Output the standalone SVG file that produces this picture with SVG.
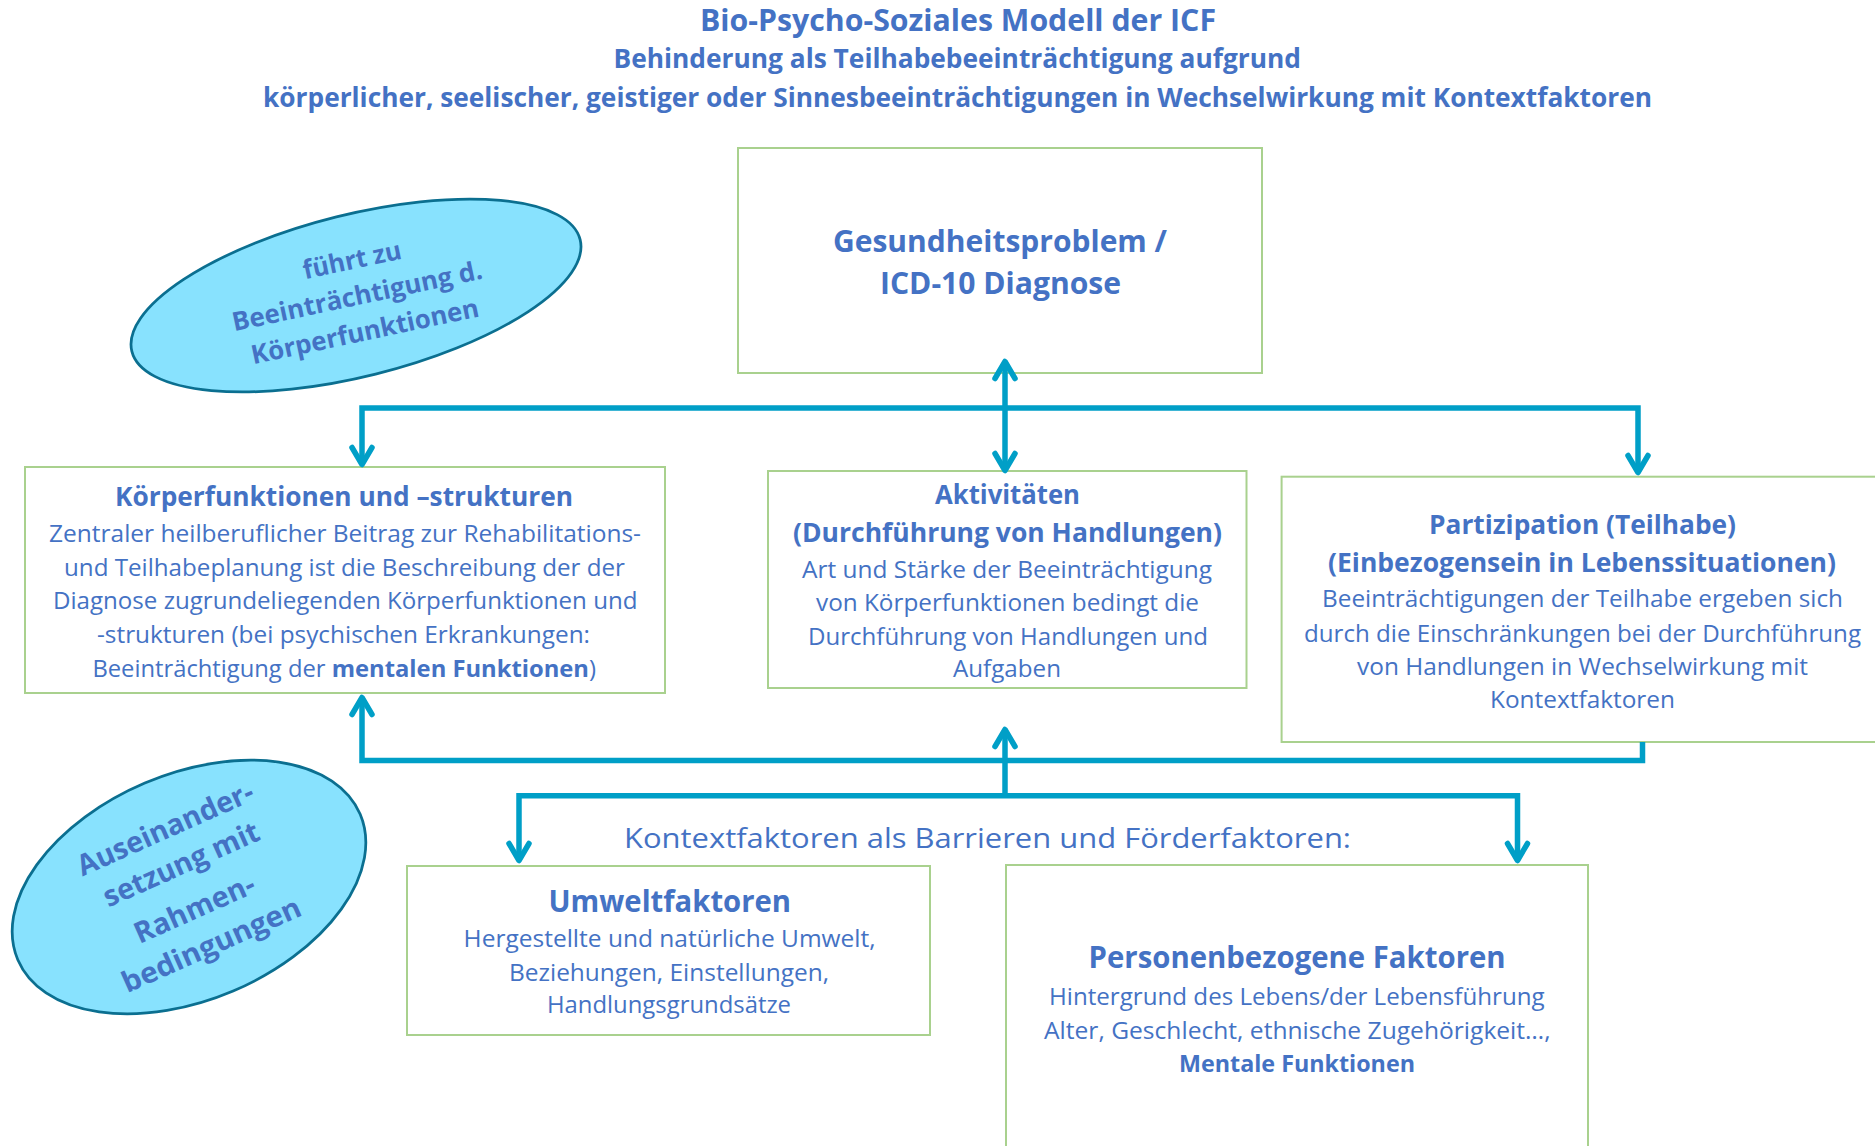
<svg xmlns="http://www.w3.org/2000/svg" width="1875" height="1146" viewBox="0 0 1875 1146">
<style>
text { font-family: "Open Sans", "Noto Sans", "DejaVu Sans", sans-serif; fill: #4472C4; }
.b { font-weight: 700; }
.r { font-size: 24px; }
.box { fill: #FFFFFF; stroke: #A9D18E; stroke-width: 2; }
.ell { fill: #88E2FE; stroke: #0B6F90; stroke-width: 2.75; }
.conn { fill: none; stroke: #009FC7; stroke-width: 5.5; stroke-linejoin: miter; }
</style>
<defs>
<marker id="arr" markerUnits="userSpaceOnUse" orient="auto-start-reverse" refX="0" refY="0" markerWidth="1" markerHeight="1" overflow="visible">
<path d="M-17,-10 L0,0 L-17,10" fill="none" stroke="#009FC7" stroke-width="5.5" stroke-linecap="round" stroke-linejoin="round"/>
</marker>
</defs>
<rect width="1875" height="1146" fill="#FFFFFF"/>

<g id="title">
<text class="b" x="700" y="31" font-size="30" textLength="516" lengthAdjust="spacingAndGlyphs">Bio-Psycho-Soziales Modell der ICF</text>
<text class="b" x="613.5" y="68" font-size="26" textLength="687.5" lengthAdjust="spacingAndGlyphs">Behinderung als Teilhabebeeinträchtigung aufgrund</text>
<text class="b" x="263" y="107" font-size="26" textLength="1389" lengthAdjust="spacingAndGlyphs">körperlicher, seelischer, geistiger oder Sinnesbeeinträchtigungen in Wechselwirkung mit Kontextfaktoren</text>
</g>

<g id="ellipse-fuehrt">
<g transform="translate(356,295.5)">
<ellipse class="ell" rx="231" ry="81" transform="rotate(-14)"/>
<g transform="rotate(-12)">
<text class="b" x="3.5" y="-26.5" font-size="26" text-anchor="middle" textLength="100" lengthAdjust="spacingAndGlyphs">führt zu</text>
<text class="b" x="1" y="9.7" font-size="26" text-anchor="middle" textLength="255" lengthAdjust="spacingAndGlyphs">Beeinträchtigung d.</text>
<text class="b" x="1.2" y="46" font-size="26" text-anchor="middle" textLength="232" lengthAdjust="spacingAndGlyphs">Körperfunktionen</text>
</g>
</g>
</g>

<g id="ellipse-auseinander">
<g transform="translate(189,887)">
<ellipse class="ell" rx="186" ry="113" transform="rotate(-23)"/>
<g transform="rotate(-24)">
<text class="b" x="2" y="-53" font-size="29" text-anchor="middle" textLength="190" lengthAdjust="spacingAndGlyphs">Auseinander-</text>
<text class="b" x="2" y="-14" font-size="29" text-anchor="middle" textLength="168" lengthAdjust="spacingAndGlyphs">setzung mit</text>
<text class="b" x="-3.9" y="32" font-size="29" text-anchor="middle" textLength="129" lengthAdjust="spacingAndGlyphs">Rahmen-</text>
<text class="b" x="-3.1" y="72" font-size="29" text-anchor="middle" textLength="193" lengthAdjust="spacingAndGlyphs">bedingungen</text>
</g>
</g>
</g>

<g id="node-gesundheit">
<rect class="box" x="738" y="148" width="524" height="225"/>
<text class="b" x="833" y="252" font-size="30" textLength="334" lengthAdjust="spacingAndGlyphs">Gesundheitsproblem /</text>
<text class="b" x="880" y="294" font-size="30" textLength="241" lengthAdjust="spacingAndGlyphs">ICD-10 Diagnose</text>
</g>

<g id="node-koerper">
<rect class="box" x="25" y="467" width="640" height="226"/>
<text class="b" x="115" y="506" font-size="26" textLength="458" lengthAdjust="spacingAndGlyphs">Körperfunktionen und –strukturen</text>
<text class="r" x="49" y="542" textLength="592" lengthAdjust="spacingAndGlyphs">Zentraler heilberuflicher Beitrag zur Rehabilitations-</text>
<text class="r" x="64" y="575.5" textLength="561" lengthAdjust="spacingAndGlyphs">und Teilhabeplanung ist die Beschreibung der der</text>
<text class="r" x="53" y="609" textLength="584.5" lengthAdjust="spacingAndGlyphs">Diagnose zugrundeliegenden Körperfunktionen und</text>
<text class="r" x="97" y="642.5" textLength="493" lengthAdjust="spacingAndGlyphs">-strukturen (bei psychischen Erkrankungen:</text>
<text class="r" x="92.4" y="676.5" textLength="503.6" lengthAdjust="spacingAndGlyphs">Beeinträchtigung der <tspan class="b">mentalen Funktionen</tspan>)</text>
</g>

<g id="node-aktivitaeten">
<rect class="box" x="768" y="471" width="478.5" height="217"/>
<text class="b" x="935" y="504" font-size="26" textLength="145" lengthAdjust="spacingAndGlyphs">Aktivitäten</text>
<text class="b" x="793" y="542" font-size="27" textLength="429" lengthAdjust="spacingAndGlyphs">(Durchführung von Handlungen)</text>
<text class="r" x="802" y="577.5" textLength="410" lengthAdjust="spacingAndGlyphs">Art und Stärke der Beeinträchtigung</text>
<text class="r" x="816" y="611" textLength="383" lengthAdjust="spacingAndGlyphs">von Körperfunktionen bedingt die</text>
<text class="r" x="808" y="645" textLength="400" lengthAdjust="spacingAndGlyphs">Durchführung von Handlungen und</text>
<text class="r" x="953" y="677" textLength="108" lengthAdjust="spacingAndGlyphs">Aufgaben</text>
</g>

<g id="node-partizipation">
<rect class="box" x="1281.6" y="476.7" width="620" height="265.3"/>
<text class="b" x="1429" y="534" font-size="27" textLength="307" lengthAdjust="spacingAndGlyphs">Partizipation (Teilhabe)</text>
<text class="b" x="1328" y="571.5" font-size="27" textLength="508" lengthAdjust="spacingAndGlyphs">(Einbezogensein in Lebenssituationen)</text>
<text class="r" x="1322" y="606.5" textLength="521" lengthAdjust="spacingAndGlyphs">Beeinträchtigungen der Teilhabe ergeben sich</text>
<text class="r" x="1304" y="641.5" textLength="557" lengthAdjust="spacingAndGlyphs">durch die Einschränkungen bei der Durchführung</text>
<text class="r" x="1357" y="674.5" textLength="451" lengthAdjust="spacingAndGlyphs">von Handlungen in Wechselwirkung mit</text>
<text class="r" x="1490" y="708" textLength="185" lengthAdjust="spacingAndGlyphs">Kontextfaktoren</text>
</g>

<g id="label-kontext">
<text x="624" y="848" font-size="28" textLength="727" lengthAdjust="spacingAndGlyphs">Kontextfaktoren als Barrieren und Förderfaktoren:</text>
</g>

<g id="node-umwelt">
<rect class="box" x="407" y="866" width="523" height="169"/>
<text class="b" x="548.5" y="911.5" font-size="30" textLength="242.5" lengthAdjust="spacingAndGlyphs">Umweltfaktoren</text>
<text class="r" x="463.6" y="946.5" textLength="412" lengthAdjust="spacingAndGlyphs">Hergestellte und natürliche Umwelt,</text>
<text class="r" x="509" y="980.5" textLength="320" lengthAdjust="spacingAndGlyphs">Beziehungen, Einstellungen,</text>
<text class="r" x="547" y="1013" textLength="244" lengthAdjust="spacingAndGlyphs">Handlungsgrundsätze</text>
</g>

<g id="node-personen">
<rect class="box" x="1006" y="865" width="582" height="300"/>
<text class="b" x="1088.6" y="968" font-size="30" textLength="417" lengthAdjust="spacingAndGlyphs">Personenbezogene Faktoren</text>
<text class="r" x="1049" y="1005" textLength="495.7" lengthAdjust="spacingAndGlyphs">Hintergrund des Lebens/der Lebensführung</text>
<text class="r" x="1044" y="1039" textLength="506.6" lengthAdjust="spacingAndGlyphs">Alter, Geschlecht, ethnische Zugehörigkeit…,</text>
<text class="r b" x="1179" y="1072" textLength="236" lengthAdjust="spacingAndGlyphs">Mentale Funktionen</text>
</g>

<g id="connectors">
<path class="conn" d="M362,464.5 V408 H1638 V472.5" marker-start="url(#arr)" marker-end="url(#arr)"/>
<path class="conn" d="M1005,470.5 V361.5" marker-start="url(#arr)" marker-end="url(#arr)"/>
<path class="conn" d="M1642.5,742 V760.5 H362 V697.5" marker-end="url(#arr)"/>
<path class="conn" d="M519,860.5 V795.7 H1517.5 V860.5" marker-start="url(#arr)" marker-end="url(#arr)"/>
<path class="conn" d="M1005,795.7 V729.5" marker-end="url(#arr)"/>
</g>
</svg>
